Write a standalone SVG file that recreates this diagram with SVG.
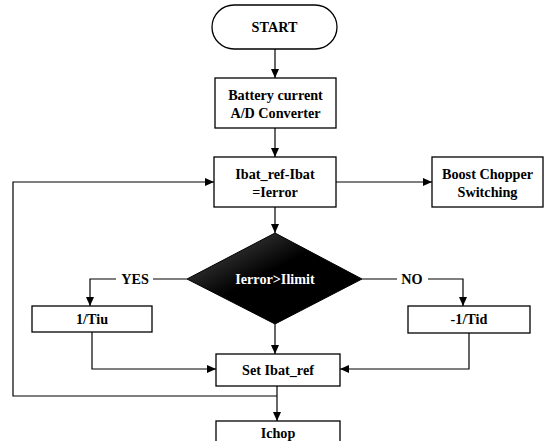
<svg xmlns="http://www.w3.org/2000/svg" width="548" height="441" viewBox="0 0 548 441">
<style>
.box{fill:#fff;stroke:#000;stroke-width:1.3}
.t{font-family:"Liberation Serif","Times New Roman",serif;font-weight:bold;font-size:14.2px;fill:#000;text-anchor:middle}
.c{fill:none;stroke:#000;stroke-width:1.2}
</style>
<defs>
<marker id="ah" markerWidth="10" markerHeight="10" refX="9" refY="5" orient="auto" markerUnits="userSpaceOnUse">
<path d="M0,1 L9,5 L0,9 Z" fill="#000"/>
</marker>
<linearGradient id="dg" x1="0" y1="0" x2="1" y2="1">
<stop offset="0" stop-color="#555"/>
<stop offset="0.45" stop-color="#000"/>
<stop offset="1" stop-color="#000"/>
</linearGradient>
</defs>
<rect width="548" height="441" fill="#fff"/>
<g id="connectors">
<line class="c" x1="275" y1="49" x2="275" y2="78" marker-end="url(#ah)"/>
<line class="c" x1="275" y1="128" x2="275" y2="157" marker-end="url(#ah)"/>
<line class="c" x1="336" y1="182" x2="432" y2="182" marker-end="url(#ah)"/>
<line class="c" x1="275" y1="207" x2="275" y2="233" marker-end="url(#ah)"/>
<polyline class="c" points="187,279 153,279"/>
<polyline class="c" points="116,279 90,279 90,306" marker-end="url(#ah)"/>
<polyline class="c" points="362,279 397,279"/>
<polyline class="c" points="428,279 463,279 463,306" marker-end="url(#ah)"/>
<line class="c" x1="275" y1="324" x2="275" y2="354" marker-end="url(#ah)"/>
<polyline class="c" points="92,332 92,369 216,369" marker-end="url(#ah)"/>
<polyline class="c" points="469,333 469,369 340,369" marker-end="url(#ah)"/>
<line class="c" x1="277" y1="386" x2="277" y2="421" marker-end="url(#ah)"/>
<polyline class="c" points="277,396 13,396 13,182 214,182" marker-end="url(#ah)"/>
</g>
<g id="start">
<rect class="box" x="212" y="5" width="125" height="44" rx="22" ry="22"/>
<text class="t" x="274.5" y="32">START</text>
</g>
<g id="battery">
<rect class="box" x="215" y="78" width="121" height="50"/>
<text class="t" x="275.5" y="100">Battery current</text>
<text class="t" x="275.5" y="118">A/D Converter</text>
</g>
<g id="ibat">
<rect class="box" x="214" y="157" width="122" height="50"/>
<text class="t" x="275" y="179">Ibat_ref-Ibat</text>
<text class="t" x="275" y="197">=Ierror</text>
</g>
<g id="boost">
<rect class="box" x="432" y="157" width="111" height="50"/>
<text class="t" x="487.5" y="179">Boost Chopper</text>
<text class="t" x="487.5" y="197">Switching</text>
</g>
<g id="decision">
<polygon points="275,233 362,279 275,324 187,279" fill="url(#dg)" stroke="#000" stroke-width="1"/>
<text class="t" x="275" y="284" style="fill:#fff">Ierror&gt;Ilimit</text>
</g>
<g id="yes-label"><text class="t" x="135" y="284">YES</text></g>
<g id="no-label"><text class="t" x="412" y="284">NO</text></g>
<g id="tiu">
<rect class="box" x="32" y="306" width="120" height="26"/>
<text class="t" x="92" y="324">1/Tiu</text>
</g>
<g id="tid">
<rect class="box" x="408" y="306" width="122" height="27"/>
<text class="t" x="469" y="324">-1/Tid</text>
</g>
<g id="set">
<rect class="box" x="216" y="354" width="124" height="32"/>
<text class="t" x="278" y="375">Set Ibat_ref</text>
</g>
<g id="ichop">
<rect class="box" x="216" y="421" width="124" height="30"/>
<text class="t" x="278" y="438">Ichop</text>
</g>
</svg>
